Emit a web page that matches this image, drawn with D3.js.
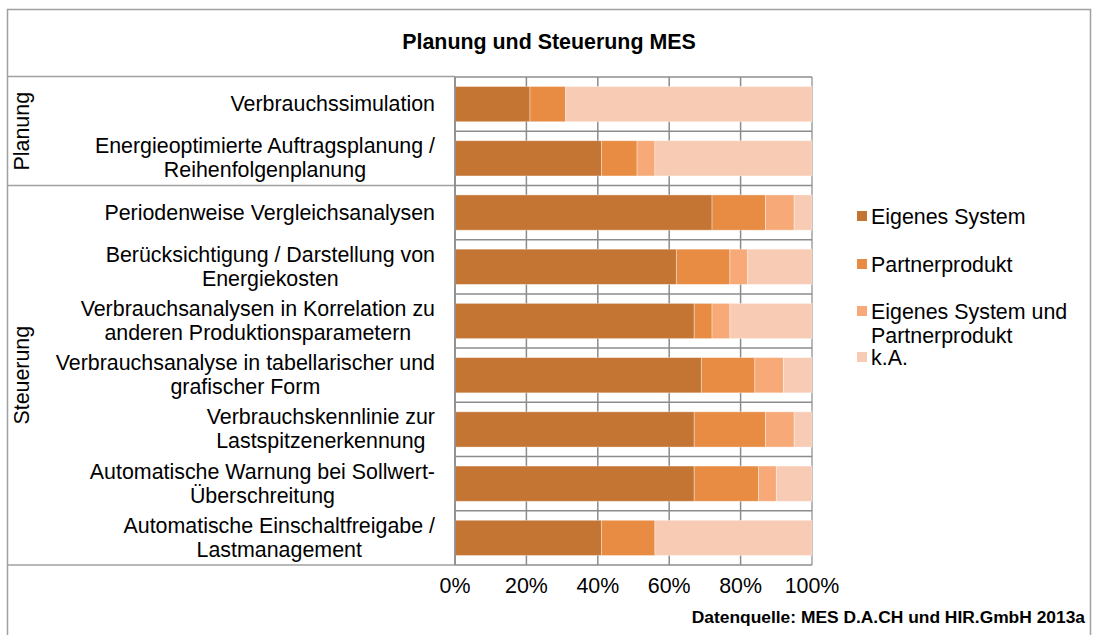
<!DOCTYPE html>
<html><head><meta charset="utf-8">
<script src="https://cdn.jsdelivr.net/npm/d3@7"></script>
<style>body{margin:0;background:#fff}text{font-family:"Liberation Sans",Arial,sans-serif;fill:#000}</style>
</head><body><svg id="c" width="1094" height="635"></svg>
<script>
const title = "Planung und Steuerung MES";
const source = "Datenquelle: MES D.A.CH und HIR.GmbH 2013a";
const categories = [
  ["Verbrauchssimulation"],
  ["Energieoptimierte Auftragsplanung /", "Reihenfolgenplanung"],
  ["Periodenweise Vergleichsanalysen"],
  ["Berücksichtigung / Darstellung von", "Energiekosten"],
  ["Verbrauchsanalysen in Korrelation zu", "anderen Produktionsparametern"],
  ["Verbrauchsanalyse in tabellarischer und", "grafischer Form"],
  ["Verbrauchskennlinie zur", "Lastspitzenerkennung"],
  ["Automatische Warnung bei Sollwert-", "Überschreitung"],
  ["Automatische Einschaltfreigabe /", "Lastmanagement"]
];
const groups = [{name: "Planung", start: 0, count: 2}, {name: "Steuerung", start: 2, count: 7}];
const seriesNames = ["Eigenes System", "Partnerprodukt", "Eigenes System und Partnerprodukt", "k.A."];
const legendLines = [["Eigenes System"], ["Partnerprodukt"], ["Eigenes System und", "Partnerprodukt"], ["k.A."]];
const eigenes = [21, 41, 72, 62, 67, 69, 67, 67, 41];
const partner = [10, 10, 15, 15, 5, 15, 20, 18, 15];
const beides  = [0, 5, 8, 5, 5, 8, 8, 5, 0];
const ka      = [69, 44, 5, 18, 23, 8, 5, 10, 44];
const ticks = [0, 20, 40, 60, 80, 100];
const colors = ["#C47534", "#E88C43", "#F7AA78", "#F8CBB4"];

const svg = d3.select("#c");
const FS = 21.4;
const x0 = 455, x1 = 812, yTop = 77, yBot = 565;
const x = d3.scaleLinear().domain([0, 100]).range([x0, x1]);
const y = d3.scaleBand().domain(d3.range(categories.length)).range([yTop, yBot]).paddingInner(0.35).paddingOuter(0.175);
const yb = d3.scaleLinear().domain([0, categories.length]).range([yTop, yBot]);

const rows = categories.map((c, i) => ({i, vals: [eigenes[i], partner[i], beides[i], ka[i]]}));
const stacked = d3.stack().keys([0,1,2,3]).value((d, k) => d.vals[k])(rows);

const gridC = "#8c8c8c";
svg.append("path").attr("d", "M7.5,635 V9.5 H1090.5 V635").attr("fill", "none").attr("stroke", "#a0a0a0").attr("stroke-width", 1.5);
const line = (xa, ya, xb, yb2, c, w) => svg.append("line").attr("x1", xa).attr("y1", ya).attr("x2", xb).attr("y2", yb2).attr("stroke", c).attr("stroke-width", w);
line(7, 76.5, x0, 76.5, "#a0a0a0", 1.5);
line(7, yb(2), x0, yb(2), "#a0a0a0", 1.5);
line(7, yBot, x0, yBot, "#a0a0a0", 1.5);

svg.append("g").selectAll("line.v").data(ticks).join("line")
  .attr("x1", d => x(d)).attr("x2", d => x(d)).attr("y1", yTop).attr("y2", yBot)
  .attr("stroke", (d) => d === 100 ? "#b8b8b8" : gridC).attr("stroke-width", d => d === 100 ? 2 : 1.5);
svg.append("g").selectAll("line.h").data(d3.range(categories.length + 1)).join("line")
  .attr("x1", x0).attr("x2", x1).attr("y1", d => yb(d)).attr("y2", d => yb(d))
  .attr("stroke", gridC).attr("stroke-width", 1.5);

svg.append("g").selectAll("g").data(stacked).join("g").attr("fill", (d, k) => colors[k])
  .selectAll("rect").data(d => d).join("rect")
  .attr("x", d => x(d[0])).attr("width", d => x(d[1]) - x(d[0]))
  .attr("y", d => y(d.data.i)).attr("height", y.bandwidth())
  .attr("stroke", "#ffffff").attr("stroke-opacity", 0.45).attr("stroke-width", 0.8);

line(x0, yTop, x0, yBot, gridC, 1.5);

svg.append("g").selectAll("text").data(ticks).join("text")
  .attr("x", d => x(d)).attr("y", 593).attr("text-anchor", "middle").attr("font-size", FS)
  .text(d => d + "%");

const labelRight = 435;
categories.forEach((lines, i) => {
  const g = svg.append("g");
  const cy = y(i) + y.bandwidth() / 2;
  const ts = lines.map((t, j) => g.append("text").attr("font-size", FS).attr("text-anchor", "middle")
    .attr("y", cy + (j - (lines.length - 1) / 2) * 24 + 7).text(t));
  const w = d3.max(ts, t => t.node().getComputedTextLength());
  ts.forEach(t => t.attr("x", labelRight - w / 2));
});

groups.forEach(gr => {
  const cy = (yb(gr.start) + yb(gr.start + gr.count)) / 2;
  svg.append("text").attr("transform", `translate(29,${cy}) rotate(-90)`).attr("text-anchor", "middle")
    .attr("font-size", FS).text(gr.name);
});

svg.append("text").attr("x", 549).attr("y", 49).attr("text-anchor", "middle").attr("font-size", FS)
  .attr("font-weight", "bold").text(title);
svg.append("text").attr("x", 1085).attr("y", 623).attr("text-anchor", "end").attr("font-size", 17.4)
  .attr("font-weight", "bold").text(source);

const legY = [216, 264, 311, 357];
legendLines.forEach((lines, k) => {
  svg.append("rect").attr("x", 857).attr("y", legY[k] - 5).attr("width", 10).attr("height", 10).attr("fill", colors[k]);
  lines.forEach((t, j) => svg.append("text").attr("x", 871).attr("y", legY[k] + 7.5 + j * 24).attr("font-size", FS).text(t));
});
</script></body></html>
